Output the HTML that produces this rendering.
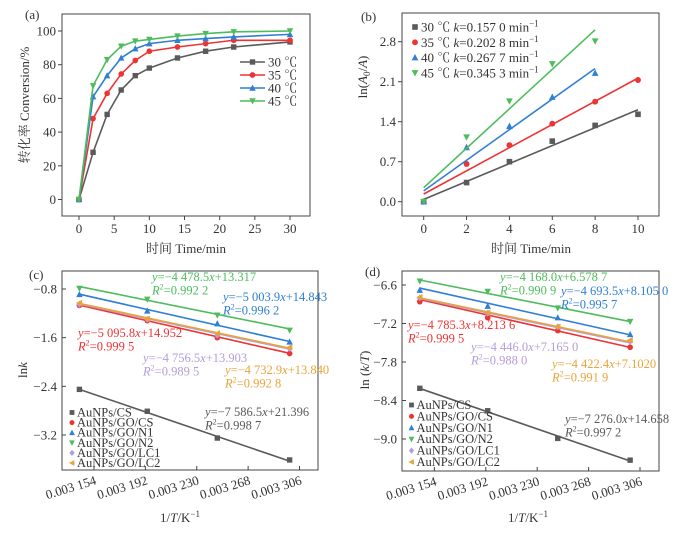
<!DOCTYPE html>
<html><head><meta charset="utf-8">
<style>
html,body{margin:0;padding:0;background:#fff;}
svg{display:block;font-family:"Liberation Serif","Noto Serif CJK SC",serif;}
</style></head>
<body>
<svg id="chart" width="696" height="541" viewBox="0 0 696 541" xmlns="http://www.w3.org/2000/svg"></svg>
<script>
// ---- Panel (a) data ----
const aTimes=[0,2,4,6,8,10,14,18,22,30];
const a30=[0,28,50.5,65,73.5,78,84,88,90.5,93.5];
const a35=[0,48,63,74.5,82.5,88,90.5,92.5,94.5,94.5];
const a40=[0,61,73.5,84,89.5,92.5,94.5,95.5,96.5,98];
const a45=[0,67.5,83,91,94,95,97,98.5,99.5,100];
const aLegend=["30 ℃","35 ℃","40 ℃","45 ℃"];
const aXTicks=[0,5,10,15,20,25,30];
const aYTicks=[0,20,40,60,80,100];
// ---- Panel (b) data ----
const bTimes=[0,2,4,6,8,10];
const b30=[0,0.335,0.70,1.06,1.335,1.53];
const b35=[0,0.66,0.99,1.365,1.75,2.13];
const b40=[0,0.95,1.32,1.83,2.25];
const b45=[0,1.13,1.76,2.41,2.81];
const bK=[0.1570,0.2028,0.2677,0.3453];
const bB=[0.04,0.135,0.19,0.245];
const bLegend=["0.157 0","0.202 8","0.267 7","0.345 3"];
const bTemps=["30 ℃","35 ℃","40 ℃","45 ℃"];
const bXTicks=[0,2,4,6,8,10];
const bYTicks=[0,0.7,1.4,2.1,2.8];
const bYLabels=["0.0","0.7","1.4","2.1","2.8"];
// ---- Panels (c),(d) data ----
const invT=[0.0031432,0.0031934,0.0032452,0.0032987];
const seriesNames=["AuNPs/CS","AuNPs/GO/CS","AuNPs/GO/N1","AuNPs/GO/N2","AuNPs/GO/LC1","AuNPs/GO/LC2"];
const cCS=[-2.45,-2.81,-3.25,-3.61];
const cGOCS=[-1.07,-1.32,-1.60,-1.86];
const cN1=[-0.89,-1.16,-1.37,-1.67];
const cN2=[-0.79,-0.97,-1.23,-1.48];
const cLC1=[-1.05,-1.30,-1.56,-1.78];
const cLC2=[-1.03,-1.29,-1.53,-1.76];
const cSlope=[-7586.5,-5095.8,-5003.9,-4478.5,-4756.5,-4732.9];
const cInter=[21.396,14.952,14.843,13.317,13.903,13.840];
const cEq=["y=−7 586.5x+21.396","y=−5 095.8x+14.952","y=−5 003.9x+14.843","y=−4 478.5x+13.317","y=−4 756.5x+13.903","y=−4 732.9x+13.840"];
const cR2=["0.998 7","0.999 5","0.996 2","0.992 2","0.989 5","0.992 8"];
const dCS=[-8.21,-8.56,-8.99,-9.33];
const dGOCS=[-6.86,-7.11,-7.31,-7.57];
const dN1=[-6.68,-6.93,-7.11,-7.37];
const dN2=[-6.54,-6.70,-6.96,-7.17];
const dLC1=[-6.80,-7.04,-7.25,-7.48];
const dLC2=[-6.79,-7.03,-7.25,-7.46];
const dSlope=[-7276.0,-4785.3,-4693.5,-4168.0,-4446.0,-4422.4];
const dInter=[14.658,8.2136,8.1050,6.5787,7.1650,7.1020];
const dEq=["y=−7 276.0x+14.658","y=−4 785.3x+8.213 6","y=−4 693.5x+8.105 0","y=−4 168.0x+6.578 7","y=−4 446.0x+7.165 0","y=−4 422.4x+7.1020"];
const dR2=["0.997 2","0.999 5","0.995 7","0.990 9","0.988 0","0.991 9"];
const xTicksCD=[0.003154,0.003192,0.003230,0.003268,0.003306];
const xTickLabelsCD=["0.003 154","0.003 192","0.003 230","0.003 268","0.003 306"];
const cYTicks=[-0.8,-1.6,-2.4,-3.2];
const dYTicks=[-6.6,-7.2,-7.8,-8.4,-9.0];

const COLORS=["#5a5a5a","#ee3333","#2f7fd3","#4dbd5c","#b39ddb","#e8a43a"];
const MARK=["square","circle","up","down","diamond","left"];
const NS="http://www.w3.org/2000/svg";
const svg=document.getElementById('chart');

function mk(tag,attrs,parent){const e=document.createElementNS(NS,tag);for(const k in attrs)e.setAttribute(k,attrs[k]);(parent||svg).appendChild(e);return e;}
function nm(el,name){
  
  
  return el;}
function lin(d0,d1,r0,r1){return v=>r0+(v-d0)*(r1-r0)/(d1-d0);}
function marker(g,type,x,y,c,s){
  let e;
  if(type==="square")e=mk('rect',{x:x-s,y:y-s,width:2*s,height:2*s,fill:c},g);
  else if(type==="circle")e=mk('circle',{cx:x,cy:y,r:s*1.05,fill:c},g);
  else if(type==="up")e=mk('polygon',{points:`${x},${y-s*1.3} ${x-s*1.2},${y+s} ${x+s*1.2},${y+s}`,fill:c},g);
  else if(type==="down")e=mk('polygon',{points:`${x},${y+s*1.3} ${x-s*1.2},${y-s} ${x+s*1.2},${y-s}`,fill:c},g);
  else if(type==="diamond")e=mk('polygon',{points:`${x},${y-s*1.3} ${x+s*1.1},${y} ${x},${y+s*1.3} ${x-s*1.1},${y}`,fill:c},g);
  else e=mk('polygon',{points:`${x-s*1.3},${y} ${x+s},${y-s*1.2} ${x+s},${y+s*1.2}`,fill:c},g);
  
  
  return e;}
function text(g,x,y,str,opts){const t=mk('text',Object.assign({x:x,y:y,'font-size':13,fill:'#333'},opts||{}),g);t.textContent=str;return t;}

function frame(g,x0,y0,x1,y1){
  const r=mk('rect',{x:x0,y:y0,width:x1-x0,height:y1-y0,fill:'none',stroke:'#444','stroke-width':1},g);
  
  
}
function xAxis(g,ticks,labels,sx,yb,out){
  ticks.forEach((t,i)=>{
    const l=mk('line',{x1:sx(t),x2:sx(t),y1:yb,y2:out?yb+4:yb-4,stroke:'#444'},g);
    
    
    const tx=text(g,sx(t),yb+17,labels[i],{'text-anchor':'middle','font-size':13});
    
    
  });
}
function yAxis(g,ticks,labels,sy,xl){
  ticks.forEach((t,i)=>{
    const l=mk('line',{x1:xl,x2:xl-4,y1:sy(t),y2:sy(t),stroke:'#444'},g);
    
    
    const tx=text(g,xl-6,sy(t)+4.5,labels[i],{'text-anchor':'end','font-size':13});
    
    
  });
}

// ===== Panel (a) =====
(function(){
  const g=mk('g',{});
  
  
  const sx=lin(0,30,79,290), sy=lin(0,100,199.5,31);
  frame(g,62,14,310,216);
  xAxis(g,aXTicks,aXTicks.map(String),sx,216,true);
  yAxis(g,aYTicks,aYTicks.map(String),sy,62);
  const lab=text(g,25,19,"(a)",{'font-size':13});
  
  
  const xt=text(g,186,253,"时间 Time/min",{'text-anchor':'middle','font-size':13});
  
  
  const yt=text(g,0,0,"转化率 Conversion/%",{'text-anchor':'middle','font-size':13,transform:'translate(29,105) rotate(-90)'});
  
  
  [a30,a35,a40,a45].forEach((s,i)=>{
    const c=COLORS[i];
    const p=mk('polyline',{points:s.map((v,j)=>sx(aTimes[j])+','+sy(v)).join(' '),fill:'none',stroke:c,'stroke-width':1.6},g);
    
    
    s.forEach((v,j)=>marker(g,MARK[i],sx(aTimes[j]),sy(v),c,2.7));
    const ly=62+i*13;
    const ll=mk('line',{x1:240,x2:265,y1:ly,y2:ly,stroke:c,'stroke-width':1.6},g);
    
    
    marker(g,MARK[i],252.5,ly,c,2.7);
    const lt=text(g,268,ly+4.5,aLegend[i],{'font-size':13});
    
    
  });
})();

// ===== Panel (b) =====
(function(){
  const g=mk('g',{});
  
  
  const sx=lin(0,10,423.7,638), sy=lin(0,2.8,201.7,41.7);
  frame(g,402,13,659,216);
  xAxis(g,bXTicks,bXTicks.map(String),sx,216,true);
  yAxis(g,bYTicks,bYLabels,sy,402);
  const lab=text(g,361,21,"(b)",{'font-size':13});
  
  
  const xt=text(g,531,253,"时间 Time/min",{'text-anchor':'middle','font-size':13});
  
  
  const yt=mk('text',{'text-anchor':'middle','font-size':13,fill:'#333',transform:'translate(367,77) rotate(-90)'},g);
  yt.innerHTML='ln(<tspan font-style="italic">A</tspan><tspan font-size="9" dy="3">0</tspan><tspan dy="-3">/</tspan><tspan font-style="italic">A</tspan>)';
  
  
  [b30,b35,b40,b45].forEach((s,i)=>{
    const c=COLORS[i];
    const xe=bTimes[s.length-1];
    const fl=mk('line',{x1:sx(0),y1:sy(bB[i]),x2:sx(xe),y2:sy(bB[i]+bK[i]*xe),stroke:c,'stroke-width':1.6},g);
    
    
    s.forEach((v,j)=>marker(g,MARK[i],sx(bTimes[j]),sy(v),c,2.8));
    const ly=27+i*15.3;
    marker(g,MARK[i],415,ly,c,2.8);
    const lt=mk('text',{x:421,y:ly+4.5,'font-size':13,fill:'#333'},g);
    lt.innerHTML=bTemps[i]+' <tspan font-style="italic">k</tspan>='+bLegend[i]+' min<tspan font-size="9" dy="-5">−1</tspan>';
    
    
  });
})();

// ===== Panels (c),(d) =====
function arrhenius(id,x0,x1,y0,y1,sx,sy,yTicks,yLabels,series,slopes,inters,eqs,r2s,eqPos,legPos,legStep,label,labPos,ytitleHTML,ytPos,xtX){
  const g=mk('g',{});
  
  
  frame(g,x0,y0,x1,y1);
  xTicksCD.forEach((t,i)=>{
    const l=mk('line',{x1:sx(t),x2:sx(t),y1:y1,y2:y1-4,stroke:'#444'},g);
    
    
    const tx=text(g,0,0,xTickLabelsCD[i],{'text-anchor':'end','font-size':13,transform:`translate(${sx(t)+3},${y1+14}) rotate(-17)`});
    
    
  });
  yTicks.forEach((t,i)=>{
    const l=mk('line',{x1:x0,x2:x0+4,y1:sy(t),y2:sy(t),stroke:'#444'},g);
    
    
    const tx=text(g,x0-5,sy(t)+4.5,yLabels[i],{'text-anchor':'end','font-size':13});
    
    
  });
  const lab=text(g,labPos[0],labPos[1],label,{'font-size':13});
  
  
  const xt=mk('text',{x:xtX,y:522,'text-anchor':'middle','font-size':13,fill:'#333'},g);
  xt.innerHTML='1/<tspan font-style="italic">T</tspan>/K<tspan font-size="9" dy="-5">−1</tspan>';
  
  
  const yt=mk('text',{'text-anchor':'middle','font-size':13,fill:'#333',transform:`translate(${ytPos[0]},${ytPos[1]}) rotate(-90)`},g);
  yt.innerHTML=ytitleHTML;
  
  
  series.forEach((s,i)=>{
    const c=COLORS[i];
    const xa=invT[0], xb=invT[invT.length-1];
    const fl=mk('line',{x1:sx(xa),y1:sy(slopes[i]*xa+inters[i]),x2:sx(xb),y2:sy(slopes[i]*xb+inters[i]),stroke:c,'stroke-width':1.6},g);
    
    
    s.forEach((v,j)=>marker(g,MARK[i],sx(invT[j]),sy(v),c,2.7));
  });
  series.forEach((s,i)=>{
    const c=COLORS[i];
    const e=mk('text',{x:eqPos[i][0],y:eqPos[i][1],'font-size':12.5,fill:c},g);
    e.innerHTML=eqs[i].replace(/^y/,'<tspan font-style="italic">y</tspan>').replace(/x\+/,'<tspan font-style="italic">x</tspan>+');
    
    
    const r=mk('text',{x:eqPos[i][0],y:eqPos[i][1]+13.5,'font-size':12.5,fill:c},g);
    r.innerHTML='<tspan font-style="italic">R</tspan><tspan font-size="8" dy="-5">2</tspan><tspan dy="5">='+r2s[i]+'</tspan>';
    
    
    const ly=legPos[1]+i*legStep;
    marker(g,MARK[i],legPos[0],ly,c,2.4);
    const lt=text(g,legPos[0]+5,ly+4,seriesNames[i],{'font-size':12.5});
    
    
  });
}
arrhenius('c',62,318,271,470,lin(0.003154,0.003306,94,299.5),lin(-0.8,-3.2,289,435),
  cYTicks,["−0.8","−1.6","−2.4","−3.2"],[cCS,cGOCS,cN1,cN2,cLC1,cLC2],cSlope,cInter,cEq,cR2,
  [[205,416],[78,337],[223,301],[152,281],[143,362],[225,374]],[72,412.5],10.1,"(c)",[29,279],
  'ln<tspan font-style="italic">k</tspan>',[27,370],180);
arrhenius('d',402,659,271,471,lin(0.003154,0.003306,434.4,640),lin(-6.6,-9.0,285,439),
  dYTicks,["−6.6","−7.2","−7.8","−8.4","−9.0"],[dCS,dGOCS,dN1,dN2,dLC1,dLC2],dSlope,dInter,dEq,dR2,
  [[565,423],[408,329],[561,295],[500,281],[471,351],[552,368]],[411.5,405],11.4,"(d)",[365,276],
  'ln (<tspan font-style="italic">k</tspan>/<tspan font-style="italic">T</tspan>)',[369,370],528);
</script>
</body></html>
